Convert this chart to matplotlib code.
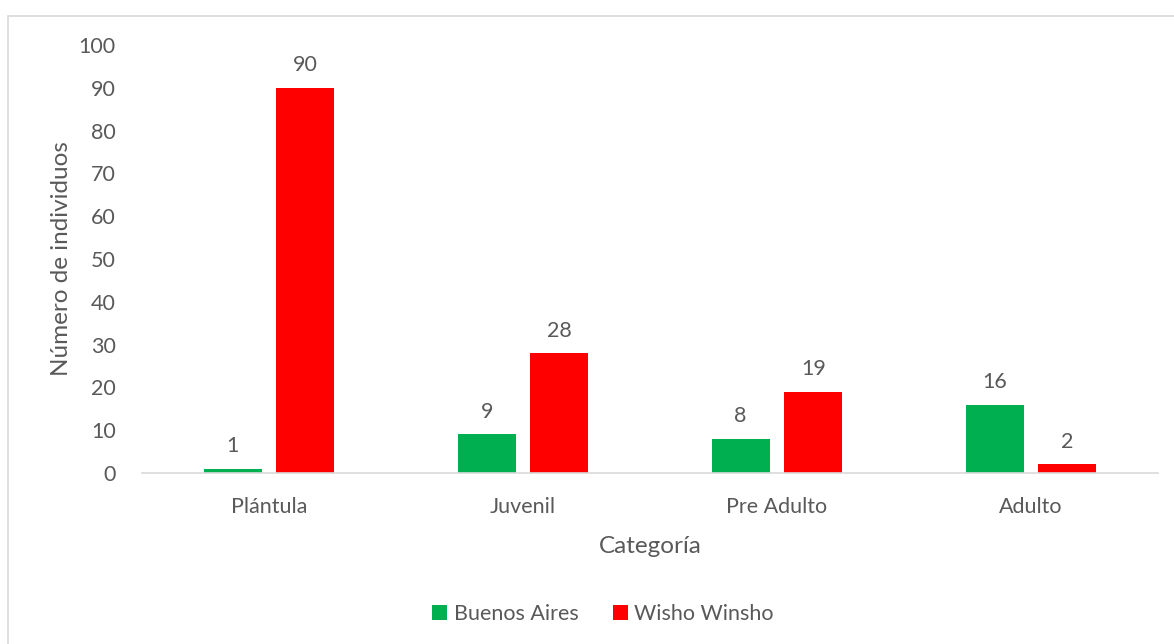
import matplotlib
matplotlib.use("Agg")
import numpy as np
import matplotlib.pyplot as plt
from matplotlib.patches import Rectangle

# ----------------------------------------------------------------------
# Data: individuals per growth stage at each site
# ----------------------------------------------------------------------
categorias = ["Plántula", "Juvenil", "Pre Adulto", "Adulto"]
buenos_aires = [1, 9, 8, 16]
wisho_winsho = [90, 28, 19, 2]
y_ticks = [0, 10, 20, 30, 40, 50, 60, 70, 80, 90, 100]

GREEN = "#00b050"
RED = "#ff0000"
TEXT = "#595959"
LINE = "#d9d9d9"

plt.rcParams["font.family"] = ["Lato", "DejaVu Sans"]

W, H = 1174, 644
fig = plt.figure(figsize=(W / 100, H / 100), dpi=100)

# light frame around the chart area
fig.patches.append(Rectangle((8 / W, -0.1), 1.2, 1 - 16 / H + 0.1,
                             transform=fig.transFigure, fill=False,
                             edgecolor=LINE, linewidth=1.2))

ax = fig.add_axes([142 / W, 1 - 473 / H, (1158 - 142) / W, (473 - 45) / H])

x = np.arange(len(categorias))
width = 0.228
off = 0.143
b1 = ax.bar(x - off, buenos_aires, width, color=GREEN, label="Buenos Aires")
b2 = ax.bar(x + off, wisho_winsho, width, color=RED, label="Wisho Winsho")

for bars, vals in ((b1, buenos_aires), (b2, wisho_winsho)):
    for bar, v in zip(bars, vals):
        ax.annotate(f"{v}", (bar.get_x() + bar.get_width() / 2, v),
                    xytext=(0, 9), textcoords="offset points",
                    ha="center", va="bottom", fontsize=15.5, color=TEXT)

ax.set_xlim(-0.5, len(categorias) - 0.5)
ax.set_ylim(0, 100)
ax.set_yticks(y_ticks)
ax.set_xticks(x)
ax.set_xticklabels(categorias)
ax.tick_params(axis="both", length=0, labelsize=15.5, labelcolor=TEXT)
ax.tick_params(axis="y", pad=19)
ax.tick_params(axis="x", pad=17)

for side in ("top", "right", "left"):
    ax.spines[side].set_visible(False)
ax.spines["bottom"].set_color(LINE)
ax.spines["bottom"].set_linewidth(1.2)

ax.set_xlabel("Categoría", fontsize=17.5, color=TEXT, labelpad=14)
ax.set_ylabel("Número de individuos", fontsize=17.5, color=TEXT, labelpad=5)

fig.legend(handles=[b1, b2], loc="center", bbox_to_anchor=(603 / W, 1 - 614 / H),
           ncol=2, frameon=False, fontsize=15.5, labelcolor=TEXT,
           handlelength=0.7, handleheight=0.7, handletextpad=0.3,
           columnspacing=1.6)

fig.savefig("out.png", dpi=100)
